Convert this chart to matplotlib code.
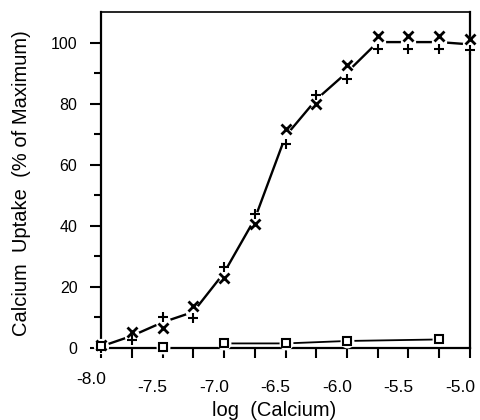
import matplotlib
matplotlib.use("Agg")
import matplotlib.pyplot as plt
import matplotlib.transforms as mtrans
import numpy as np

plt.rcParams['font.family'] = ['Liberation Sans', 'DejaVu Sans']

log_ca = [-8.0, -7.75, -7.5, -7.25, -7.0, -6.75, -6.5, -6.25, -6.0, -5.75, -5.5, -5.25, -5.0]
uptake_x = [1, 5.3, 6.6, 13.7, 22.8, 40.5, 71.8, 80, 92.5, 102.3, 102.3, 102.3, 101.2]
uptake_plus = [0, 2.6, 10.2, 9.9, 26.4, 44, 66.9, 82.7, 88, 98, 98, 98, 97.6]

sq_x = [-8.0, -7.5, -7.0, -6.5, -6.0, -5.25]
sq_y = [0.6, 0.4, 1.5, 1.5, 2.3, 2.8]

xticks = [-8.0, -7.5, -7.0, -6.5, -6.0, -5.5, -5.0]
xticklabels = ['-8.0', '-7.5', '-7.0', '-6.5', '-6.0', '-5.5', '-5.0']
yticks = [0, 20, 40, 60, 80, 100]

fig = plt.figure(figsize=(4.81, 4.2), dpi=100)
ax = fig.add_axes([101/481, 1-348/420, (470-101)/481, (348-12)/420])

mean_y = (np.array(uptake_x) + np.array(uptake_plus)) / 2
ax.plot(log_ca, mean_y, color='black', lw=1.7, zorder=2, clip_on=False)
ax.plot(log_ca, mean_y, ls='none', marker='o', ms=11, mfc='white', mec='none', zorder=3, clip_on=False)
ax.plot(log_ca, uptake_x, ls='none', marker='x', ms=6.5, mew=2.0, color='black', zorder=4, clip_on=False)
ax.plot(log_ca, uptake_plus, ls='none', marker='+', ms=7, mew=1.5, color='black', zorder=4, clip_on=False)

ax.plot(sq_x[2:], sq_y[2:], color='black', lw=1.3, zorder=2, clip_on=False)
ax.plot(sq_x, sq_y, ls='none', marker='o', ms=10, mfc='white', mec='none', zorder=3, clip_on=False)
ax.plot(sq_x, sq_y, ls='none', marker='s', ms=6, mfc='white', mec='black', mew=1.5, zorder=5, clip_on=False)

ax.set_xlim(-8.0, -5.0)
ax.set_ylim(0, 110)
ax.set_xticks(xticks)
ax.set_xticklabels([])
ax.set_xticks(np.arange(-8.0, -4.99, 0.25), minor=True)
ax.set_yticks(yticks)
ax.set_yticks(range(10, 110, 20), minor=True)

ax.tick_params(axis='x', which='both', direction='out', length=7, width=1.5)
ax.tick_params(axis='y', which='major', direction='out', length=8, width=1.5, pad=9, labelsize=11.5)
ax.tick_params(axis='y', which='minor', direction='out', length=5, width=1.5)

for xv, lab in zip(xticks, xticklabels):
    dy = -24 if xv == -8.0 else -32
    off = mtrans.ScaledTranslation(-10/100, dy/100, fig.dpi_scale_trans)
    ax.text(xv, 0, lab, transform=ax.get_xaxis_transform() + off,
            ha='center', va='top', fontsize=12.5)

for s in ax.spines.values():
    s.set_linewidth(1.6)
ax.spines['top'].set_linewidth(1.2)

ax.set_xlabel('log  (Calcium)', fontsize=14.5)
ax.xaxis.set_label_coords(0.469, -0.158)
ax.set_ylabel('Calcium  Uptake  (% of Maximum)', fontsize=14.5)
ax.yaxis.set_label_coords(-0.19, 0.49)

fig.savefig('out.png', dpi=100)
